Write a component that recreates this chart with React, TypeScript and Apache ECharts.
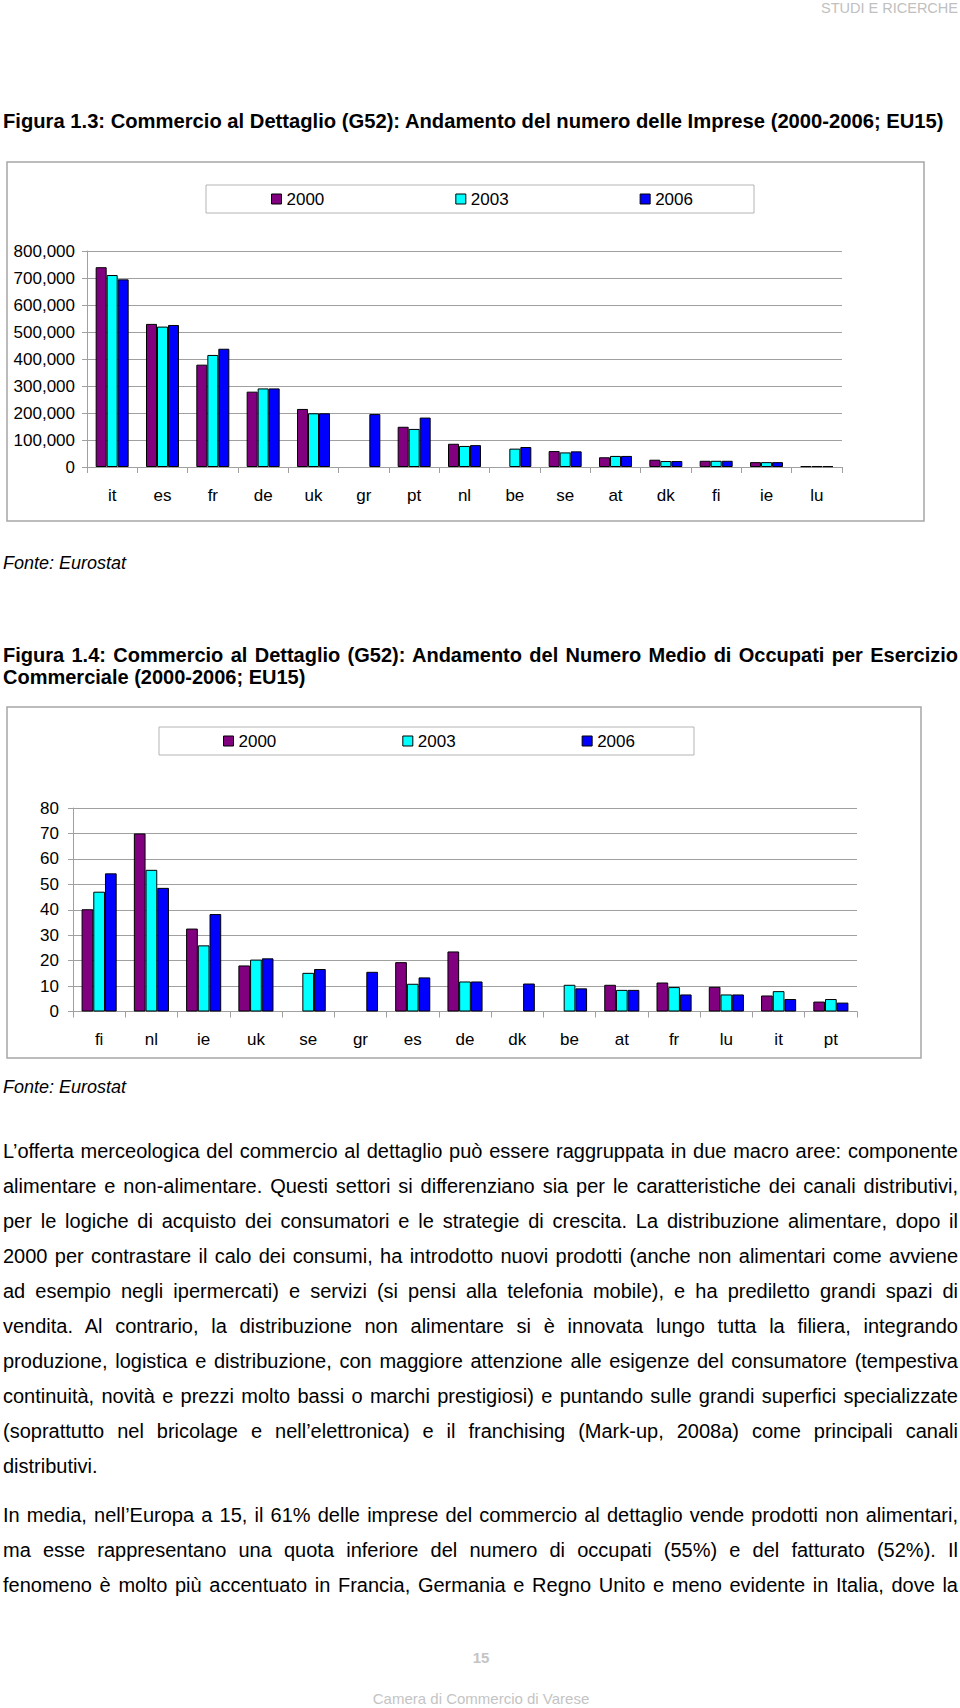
import React, { useEffect, useRef } from 'react';
import * as echarts from 'echarts';

const FONT = '"Liberation Sans", Arial, Helvetica, sans-serif';

// ---- Figura 1.3: numero delle imprese ----
const CATS1 = ['it', 'es', 'fr', 'de', 'uk', 'gr', 'pt', 'nl', 'be', 'se', 'at', 'dk', 'fi', 'ie', 'lu'];
const IMPRESE_2000 = [740000, 530000, 379000, 279000, 215000, null, 149000, 86000, null, 59000, 36000, 27000, 23000, 18000, 3000];
const IMPRESE_2003 = [711000, 520000, 415000, 291000, 199000, null, 141000, 78000, 68000, 54000, 41000, 22000, 23000, 18000, 3000];
const IMPRESE_2006 = [695000, 526000, 438000, 291000, 199000, 196000, 183000, 81000, 74000, 58000, 41000, 22000, 23000, 18000, 3000];

// ---- Figura 1.4: numero medio di occupati per esercizio ----
const CATS2 = ['fi', 'nl', 'ie', 'uk', 'se', 'gr', 'es', 'de', 'dk', 'be', 'at', 'fr', 'lu', 'it', 'pt'];
const OCC_2000 = [40.2, 70, 32.6, 18.1, null, null, 19.4, 23.6, null, null, 10.5, 11.4, 9.7, 6.3, 3.9];
const OCC_2003 = [47.1, 55.7, 26, 20.4, 15.2, null, 10.9, 11.8, null, 10.5, 8.5, 9.6, 6.7, 8.0, 4.9];
const OCC_2006 = [54.3, 48.6, 38.3, 20.9, 16.7, 15.6, 13.4, 11.8, 11.0, 9.1, 8.5, 6.7, 6.7, 4.9, 3.5];

const YEARS = ['2000', '2003', '2006'];
const COLORS = ['#800080', '#00FFFF', '#0000FF'];

const TITLE1 = 'Figura 1.3: Commercio al Dettaglio (G52): Andamento del numero delle Imprese (2000-2006; EU15)';
const TITLE2_A = 'Figura 1.4: Commercio al Dettaglio (G52): Andamento del Numero Medio di Occupati per Esercizio';
const TITLE2_B = 'Commerciale (2000-2006; EU15)';
const SOURCE = 'Fonte: Eurostat';

const PARA1 = [
  'L’offerta merceologica del commercio al dettaglio può essere raggruppata in due macro aree: componente',
  'alimentare e non-alimentare. Questi settori si differenziano sia per le caratteristiche dei canali distributivi,',
  'per le logiche di acquisto dei consumatori e le strategie di crescita. La distribuzione alimentare, dopo il',
  '2000 per contrastare il calo dei consumi, ha introdotto nuovi prodotti (anche non alimentari come avviene',
  'ad esempio negli ipermercati) e servizi (si pensi alla telefonia mobile), e ha prediletto grandi spazi di',
  'vendita. Al contrario, la distribuzione non alimentare si è innovata lungo tutta la filiera, integrando',
  'produzione, logistica e distribuzione, con maggiore attenzione alle esigenze del consumatore (tempestiva',
  'continuità, novità e prezzi molto bassi o marchi prestigiosi) e puntando sulle grandi superfici specializzate',
  '(soprattutto nel bricolage e nell’elettronica) e il franchising (Mark-up, 2008a) come principali canali',
  'distributivi.',
];
const PARA2 = [
  'In media, nell’Europa a 15, il 61% delle imprese del commercio al dettaglio vende prodotti non alimentari,',
  'ma esse rappresentano una quota inferiore del numero di occupati (55%) e del fatturato (52%). Il',
  'fenomeno è molto più accentuato in Francia, Germania e Regno Unito e meno evidente in Italia, dove la',
];

const GRID_LINE = '#a0a0a0';

function barSeries(name: string, data: (number | null)[], color: string, bw: number, idx: number) {
  return {
    type: 'bar',
    name,
    data,
    xAxisIndex: idx,
    yAxisIndex: idx,
    barWidth: bw,
    barGap: '0%',
    silent: true,
    itemStyle: { color, borderColor: '#000', borderWidth: 1 },
  };
}

function catAxis(cats: string[], idx: number, margin: number) {
  return {
    type: 'category',
    gridIndex: idx,
    data: cats,
    axisLine: { show: true, lineStyle: { color: GRID_LINE, width: 1 } },
    axisTick: { show: true, length: 6, interval: 0, lineStyle: { color: GRID_LINE } },
    axisLabel: { interval: 0, margin, color: '#000', fontSize: 17, fontFamily: FONT, lineHeight: 17 },
  };
}

function valAxis(idx: number, max: number, interval: number, margin: number, fmt?: (v: number) => string) {
  return {
    type: 'value',
    gridIndex: idx,
    min: 0,
    max,
    interval,
    axisLine: { show: true, lineStyle: { color: GRID_LINE, width: 1 } },
    axisTick: { show: true, length: 5, lineStyle: { color: GRID_LINE } },
    splitLine: { show: true, lineStyle: { color: GRID_LINE, width: 1 } },
    axisLabel: { margin, color: '#000', fontSize: 17, fontFamily: FONT, formatter: fmt },
  };
}

function legend(left: number, top: number, gap: number) {
  return {
    data: YEARS,
    left,
    top,
    orient: 'horizontal',
    padding: 0,
    itemGap: gap,
    itemWidth: 10,
    itemHeight: 10,
    icon: 'rect',
    selectedMode: false,
    itemStyle: { borderColor: '#000', borderWidth: 1 },
    textStyle: { color: '#000', fontSize: 17, fontFamily: FONT, lineHeight: 20 },
  };
}

function buildOption() {
  return {
    animation: false,
    backgroundColor: 'transparent',
    textStyle: { fontFamily: FONT },
    grid: [
      { left: 87, top: 251, width: 755, height: 216, containLabel: false },
      { left: 73, top: 808, width: 784, height: 203.5, containLabel: false },
    ],
    xAxis: [catAxis(CATS1, 0, 20), catAxis(CATS2, 1, 19)],
    yAxis: [
      valAxis(0, 800000, 100000, 12, (v: number) => v.toLocaleString('en-US')),
      valAxis(1, 80, 10, 14),
    ],
    legend: [legend(271, 189, 131), legend(223, 731, 126)],
    series: [
      barSeries(YEARS[0], IMPRESE_2000, COLORS[0], 11, 0),
      barSeries(YEARS[1], IMPRESE_2003, COLORS[1], 11, 0),
      barSeries(YEARS[2], IMPRESE_2006, COLORS[2], 11, 0),
      barSeries(YEARS[0], OCC_2000, COLORS[0], 11.7, 1),
      barSeries(YEARS[1], OCC_2003, COLORS[1], 11.7, 1),
      barSeries(YEARS[2], OCC_2006, COLORS[2], 11.7, 1),
    ],
    graphic: [
      { type: 'rect', z: -10, silent: true, shape: { x: 7, y: 162, width: 917, height: 359 }, style: { fill: 'none', stroke: '#a6a6a6', lineWidth: 1.5 } },
      { type: 'rect', z: -10, silent: true, shape: { x: 206, y: 185, width: 548, height: 28 }, style: { fill: 'none', stroke: '#b4b4b4', lineWidth: 1 } },
      { type: 'rect', z: -10, silent: true, shape: { x: 7, y: 707, width: 914, height: 351 }, style: { fill: 'none', stroke: '#a6a6a6', lineWidth: 1.5 } },
      { type: 'rect', z: -10, silent: true, shape: { x: 159, y: 727, width: 535, height: 28 }, style: { fill: 'none', stroke: '#b4b4b4', lineWidth: 1 } },
    ],
  };
}

const abs = (top: number, extra: React.CSSProperties = {}): React.CSSProperties => ({
  position: 'absolute',
  left: 3,
  top,
  whiteSpace: 'nowrap',
  ...extra,
});

export default function App() {
  const ref = useRef<HTMLDivElement>(null);
  useEffect(() => {
    if (!ref.current) return;
    const chart = echarts.init(ref.current, null, { renderer: 'svg' });
    chart.setOption(buildOption() as any);
    return () => chart.dispose();
  }, []);

  const bodyLine = (text: string, center: number, justify: boolean, key: string) => (
    <div
      key={key}
      style={abs(center - 17.5, {
        width: 955,
        height: 35,
        fontSize: 20,
        lineHeight: '35px',
        textAlign: justify ? 'justify' : 'left',
        textAlignLast: justify ? 'justify' : 'left',
      } as React.CSSProperties)}
    >
      {text}
    </div>
  );

  return (
    <div
      style={{
        position: 'absolute',
        left: 0,
        top: 0,
        width: 960,
        height: 1708,
        overflow: 'hidden',
        background: '#fff',
        color: '#000',
        fontFamily: FONT,
      }}
    >
      <div style={{ position: 'absolute', right: 2, top: 0, fontSize: 14.5, lineHeight: '16px', color: '#c0c0c0' }}>
        STUDI E RICERCHE
      </div>
      <div style={abs(108.5, { fontSize: 20.2, fontWeight: 'bold', lineHeight: '24px' })}>{TITLE1}</div>
      <div style={abs(552, { fontSize: 18, fontStyle: 'italic', lineHeight: '22px' })}>{SOURCE}</div>
      <div
        style={abs(642.5, {
          width: 955,
          fontSize: 20,
          fontWeight: 'bold',
          lineHeight: '24px',
          textAlign: 'justify',
          textAlignLast: 'justify',
        } as React.CSSProperties)}
      >
        {TITLE2_A}
      </div>
      <div style={abs(664.5, { fontSize: 20, fontWeight: 'bold', lineHeight: '24px' })}>{TITLE2_B}</div>
      <div style={abs(1076, { fontSize: 18, fontStyle: 'italic', lineHeight: '22px' })}>{SOURCE}</div>
      {PARA1.map((t, i) => bodyLine(t, 1151.7 + i * 35, i < PARA1.length - 1, 'p1-' + i))}
      {PARA2.map((t, i) => bodyLine(t, 1515 + i * 35, true, 'p2-' + i))}
      <div
        style={{ position: 'absolute', left: 0, width: 962, top: 1648, textAlign: 'center', fontSize: 15, lineHeight: '20px', color: '#c4c4c4', fontWeight: 'bold' }}
      >
        15
      </div>
      <div
        style={{ position: 'absolute', left: 0, width: 962, top: 1690, textAlign: 'center', fontSize: 15, lineHeight: '17px', color: '#c4c4c4' }}
      >
        Camera di Commercio di Varese
      </div>
      <div ref={ref} style={{ position: 'absolute', left: 0, top: 0, width: 960, height: 1708 }} />
    </div>
  );
}
